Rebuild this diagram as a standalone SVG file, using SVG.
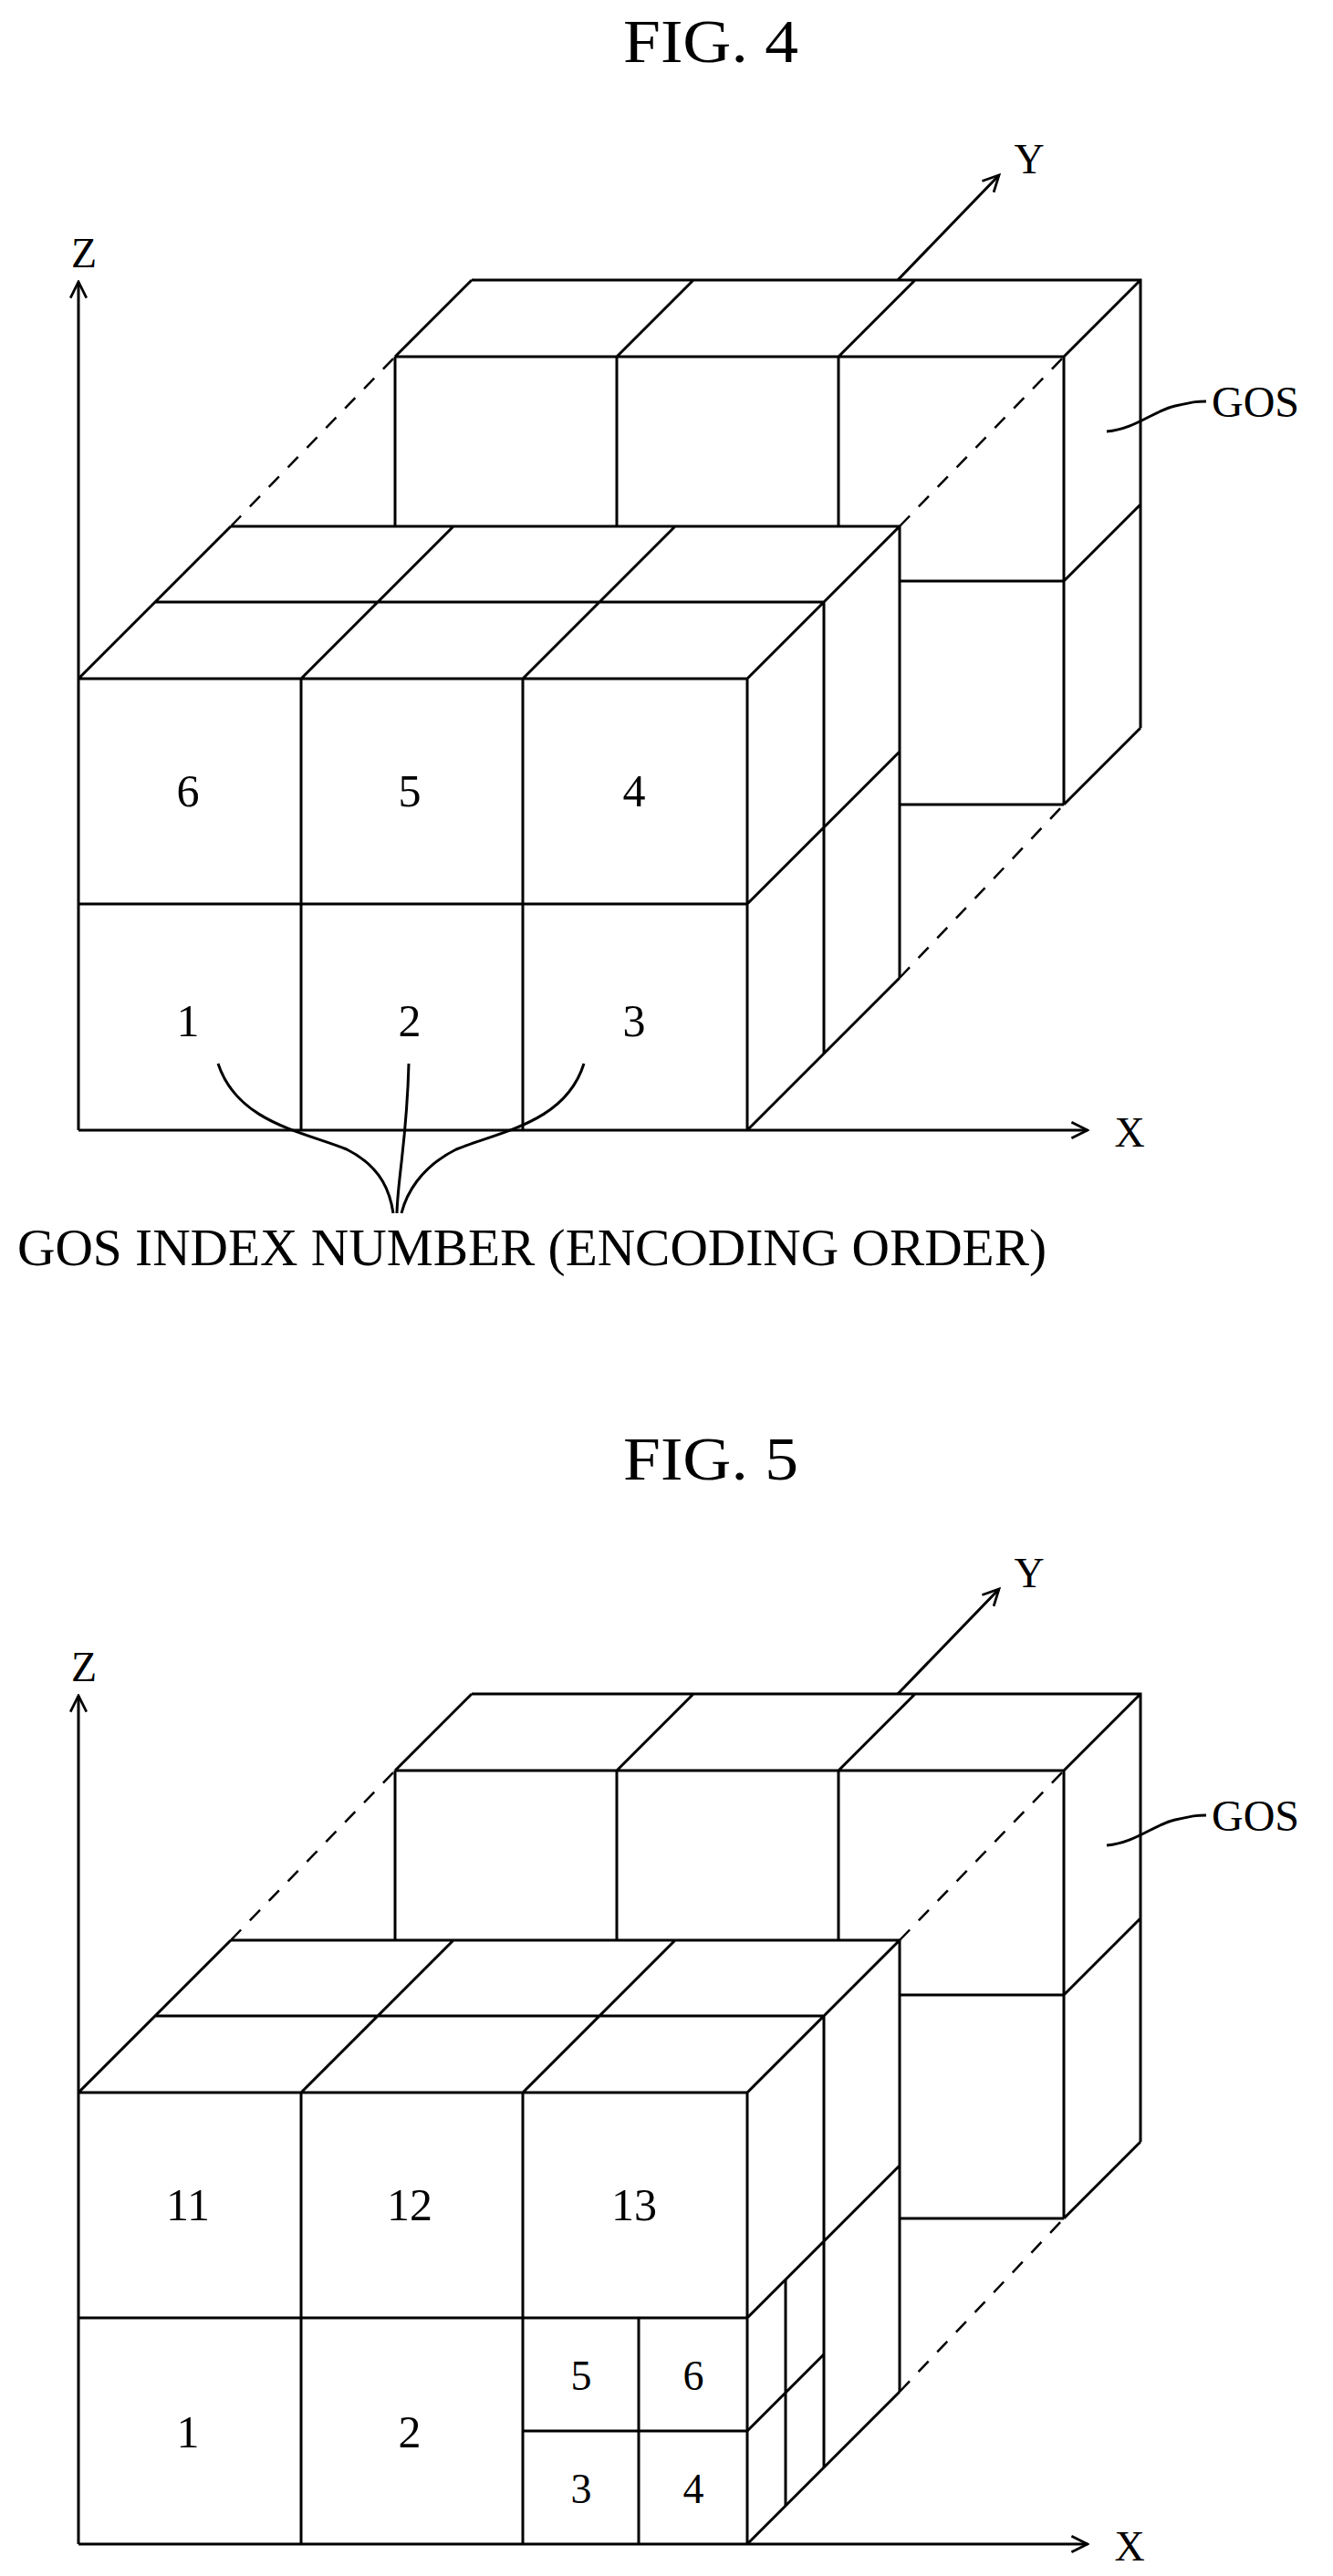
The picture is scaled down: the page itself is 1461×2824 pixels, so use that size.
<svg xmlns="http://www.w3.org/2000/svg" width="1461" height="2824" viewBox="0 0 1461 2824">
<style>
.l{stroke:#000;stroke-width:3;fill:none}
.d{stroke:#000;stroke-width:2.5;fill:none;stroke-dasharray:16 14}
.t{font-family:"Liberation Serif","Times New Roman",serif;fill:#000;text-anchor:middle}
.n{font-size:50px}
</style>
<defs>
<marker id="ar" viewBox="0 0 20 20" refX="18" refY="10" markerWidth="22" markerHeight="22" markerUnits="userSpaceOnUse" orient="auto">
<path d="M2,2 L18,10 L2,18" fill="none" stroke="#000" stroke-width="2.5"/>
</marker>
<g id="base">
<path class="l" d="M433,391H1166V882M433,391V577M676,391V577M919,391V577M986,637H1166M986,882H1166M517,307H1250V798M433,391L517,307M676,391L760,307M919,391L1003,307M1166,391L1250,307M1166,637L1250,553M1166,882L1250,798"/>
<path class="d" d="M253,577L433,391M986,577L1166,391M986,1072L1166,882"/>
<path class="l" d="M86,744H819V1239M86,991H819M330,744V1239M573,744V1239M253,577H986V1072M170,660H903V1155M86,744L253,577M330,744L497,577M573,744L740,577M819,744L986,577M819,991L986,824M819,1239L986,1072"/>
<path class="l" d="M86,1239V309" marker-end="url(#ar)"/>
<path class="l" d="M86,1239H1192" marker-end="url(#ar)"/>
<path class="l" d="M984,307L1095,192" marker-end="url(#ar)"/>
<text class="t" x="92" y="293" font-size="46">Z</text>
<text class="t" x="1238" y="1257" font-size="46">X</text>
<text class="t" x="1128" y="190" font-size="46">Y</text>
<path class="l" stroke-width="2" d="M1213,473C1245,470 1265,450 1288,445S1312,440 1322,440"/>
<text class="t" x="1376" y="457" font-size="48">GOS</text>
</g>
</defs>
<g id="fig4">
<text class="t" x="779" y="68" font-size="68" textLength="192" lengthAdjust="spacingAndGlyphs">FIG. 4</text>
<use href="#base"/>
<g id="labels4" class="t n">
<text x="206" y="884">6</text><text x="449" y="884">5</text><text x="695" y="884">4</text>
<text x="206" y="1136">1</text><text x="449" y="1136">2</text><text x="695" y="1136">3</text>
</g>
<g id="leaders">
<path class="l" stroke-width="2" d="M239,1166C260,1230 330,1240 380,1260C420,1280 428,1310 431,1330M448,1166C446,1250 436,1290 435,1330M640,1166C620,1230 550,1240 500,1260C460,1280 445,1310 440,1330"/>
</g>
<text class="t" x="583" y="1387" font-size="56" textLength="1128" lengthAdjust="spacingAndGlyphs">GOS INDEX NUMBER (ENCODING ORDER)</text>
</g>
<g id="fig5">
<text class="t" x="779" y="1622" font-size="68" textLength="192" lengthAdjust="spacingAndGlyphs">FIG. 5</text>
<g transform="translate(0,1550)">
<use href="#base"/>
<path class="l" d="M700,991V1239M573,1115H819M819,1115L903,1031M861,949V1197"/>
<g class="t n">
<text x="206" y="884">11</text><text x="449" y="884">12</text><text x="695" y="884">13</text>
<text x="206" y="1133">1</text><text x="449" y="1133">2</text>
</g>
<g class="t" font-size="46">
<text x="637" y="1070">5</text><text x="760" y="1070">6</text>
<text x="637" y="1194">3</text><text x="760" y="1194">4</text>
</g>
</g>
</g>
</svg>
